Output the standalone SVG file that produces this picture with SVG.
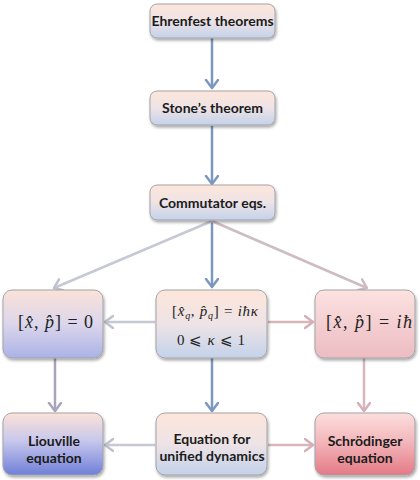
<svg xmlns="http://www.w3.org/2000/svg" width="420" height="480" viewBox="0 0 420 480">
<defs>
<linearGradient id="gStd" x1="0" y1="0" x2="0" y2="1">
<stop offset="0" stop-color="#fde6da"/><stop offset="0.5" stop-color="#eee3e6"/><stop offset="1" stop-color="#c3d2ea"/>
</linearGradient>
<linearGradient id="gLav" x1="0" y1="0" x2="0" y2="1">
<stop offset="0" stop-color="#fbe2d8"/><stop offset="0.5" stop-color="#dcd6ec"/><stop offset="1" stop-color="#aab2e6"/>
</linearGradient>
<linearGradient id="gBlue" x1="0" y1="0" x2="0" y2="1">
<stop offset="0" stop-color="#fce2d8"/><stop offset="0.45" stop-color="#c7c7ec"/><stop offset="1" stop-color="#6f7fd8"/>
</linearGradient>
<linearGradient id="gPink" x1="0" y1="0" x2="0" y2="1">
<stop offset="0" stop-color="#fce2e0"/><stop offset="1" stop-color="#ecbcc2"/>
</linearGradient>
<linearGradient id="gRed" x1="0" y1="0" x2="0" y2="1">
<stop offset="0" stop-color="#fcdedd"/><stop offset="0.45" stop-color="#f3b8bc"/><stop offset="1" stop-color="#e47a86"/>
</linearGradient>
<filter id="sh" x="-10%" y="-10%" width="125%" height="130%">
<feGaussianBlur in="SourceAlpha" stdDeviation="1.5"/>
<feOffset dx="1" dy="2" result="b"/>
<feComponentTransfer><feFuncA type="linear" slope="0.35"/></feComponentTransfer>
<feMerge><feMergeNode/><feMergeNode in="SourceGraphic"/></feMerge>
</filter>
<marker id="aBlue" markerUnits="userSpaceOnUse" markerWidth="16" markerHeight="16" refX="9" refY="7" orient="auto">
<path d="M1,1 L9,7 L1,13" fill="none" stroke="#7d98c0" stroke-width="2.5" stroke-linecap="round" stroke-linejoin="round"/>
</marker>
<marker id="aGrey" markerUnits="userSpaceOnUse" markerWidth="16" markerHeight="16" refX="9" refY="7" orient="auto">
<path d="M1,1 L9,7 L1,13" fill="none" stroke="#bfc1cd" stroke-width="2.5" stroke-linecap="round" stroke-linejoin="round"/>
</marker>
<marker id="aPurp" markerUnits="userSpaceOnUse" markerWidth="16" markerHeight="16" refX="9" refY="7" orient="auto">
<path d="M1,1 L9,7 L1,13" fill="none" stroke="#a8a4bc" stroke-width="2.5" stroke-linecap="round" stroke-linejoin="round"/>
</marker>
<marker id="aPink" markerUnits="userSpaceOnUse" markerWidth="16" markerHeight="16" refX="9" refY="7" orient="auto">
<path d="M1,1 L9,7 L1,13" fill="none" stroke="#d6b0b6" stroke-width="2.5" stroke-linecap="round" stroke-linejoin="round"/>
</marker>
<marker id="aRose" markerUnits="userSpaceOnUse" markerWidth="16" markerHeight="16" refX="9" refY="7" orient="auto">
<path d="M1,1 L9,7 L1,13" fill="none" stroke="#cdbcc2" stroke-width="2.5" stroke-linecap="round" stroke-linejoin="round"/>
</marker>
</defs>
<style>
.box{stroke:#a3a3a8;stroke-width:1;filter:url(#sh)}
.lbl{font-family:Lato,"Liberation Sans",sans-serif;font-weight:bold;font-size:14px;fill:#1b1b1b;text-anchor:middle}
.math{font-family:"Liberation Serif","DejaVu Serif",serif;font-size:18px;fill:#222}
.it{font-style:italic}
.c{fill:none;stroke-width:2.5}
.cb{stroke:#7d98c0;marker-end:url(#aBlue)}
.cg{stroke:#c6c8d4;marker-end:url(#aGrey)}
.cp{stroke:#a8a4bc;marker-end:url(#aPurp)}
.ck{stroke:#d8b6bc;marker-end:url(#aPink)}
.cr{stroke:#cdbcc2;marker-end:url(#aRose)}
</style>
<rect width="420" height="480" fill="#ffffff"/>
<g id="connectors">
<line class="c cb" x1="212" y1="38" x2="212" y2="88"/>
<line class="c cb" x1="212" y1="126" x2="212" y2="184"/>
<line class="c cb" x1="212" y1="221" x2="212" y2="287"/>
<line class="c cg" x1="212" y1="221" x2="54" y2="288"/>
<line class="c cr" x1="212" y1="221" x2="367" y2="288"/>
<line class="c cg" x1="155" y1="322" x2="105" y2="322"/>
<line class="c ck" x1="268" y1="322" x2="313" y2="322"/>
<line class="c cp" x1="55" y1="358" x2="55" y2="411"/>
<line class="c cb" x1="212" y1="358" x2="212" y2="411"/>
<line class="c ck" x1="364" y1="358" x2="364" y2="411"/>
<line class="c cg" x1="155" y1="445" x2="105" y2="445"/>
<line class="c ck" x1="268" y1="445" x2="313" y2="445"/>
</g>
<g id="ehrenfest">
<rect class="box" x="150" y="4" width="125" height="34" rx="7" fill="url(#gStd)"/>
<text class="lbl" x="212.5" y="26">Ehrenfest theorems</text>
</g>
<g id="stone">
<rect class="box" x="150" y="91" width="125" height="34" rx="7" fill="url(#gStd)"/>
<text class="lbl" x="212.5" y="113">Stone’s theorem</text>
</g>
<g id="commutator">
<rect class="box" x="150" y="185" width="125" height="35" rx="7" fill="url(#gStd)"/>
<text class="lbl" x="212.5" y="207.5">Commutator eqs.</text>
</g>
<g id="classical">
<rect class="box" x="3" y="290" width="100" height="68" rx="9" fill="url(#gLav)"/>
<text class="math" x="18" y="328" textLength="75" lengthAdjust="spacing">[<tspan class="it">x̂</tspan>, <tspan class="it">p̂</tspan>] = 0</text>
</g>
<g id="unified">
<rect class="box" x="156" y="290" width="111" height="68" rx="9" fill="url(#gStd)"/>
<text class="math" x="172" y="316" style="font-size:15px" textLength="86" lengthAdjust="spacing">[<tspan class="it">x̂</tspan><tspan class="it" font-size="10" dy="3">q</tspan><tspan dy="-3">, </tspan><tspan class="it">p̂</tspan><tspan class="it" font-size="10" dy="3">q</tspan><tspan dy="-3">] = </tspan><tspan class="it">iħκ</tspan></text>
<text class="math" x="177" y="345" style="font-size:15px" textLength="68" lengthAdjust="spacing">0 ⩽ <tspan class="it">κ</tspan> ⩽ 1</text>
</g>
<g id="quantum">
<rect class="box" x="315" y="290" width="100" height="68" rx="9" fill="url(#gPink)"/>
<text class="math" x="326" y="328" textLength="86" lengthAdjust="spacing">[<tspan class="it">x̂</tspan>, <tspan class="it">p̂</tspan>] = <tspan class="it">iħ</tspan></text>
</g>
<g id="liouville">
<rect class="box" x="3" y="413" width="100" height="62" rx="9" fill="url(#gBlue)"/>
<text class="lbl" x="54" y="446">Liouville</text>
<text class="lbl" x="54" y="463">equation</text>
</g>
<g id="unifiedeq">
<rect class="box" x="156" y="413" width="111" height="62" rx="9" fill="url(#gStd)"/>
<text class="lbl" x="212" y="444">Equation for</text>
<text class="lbl" x="212" y="461">unified dynamics</text>
</g>
<g id="schrodinger">
<rect class="box" x="315" y="413" width="100" height="62" rx="9" fill="url(#gRed)"/>
<text class="lbl" x="365" y="446">Schrödinger</text>
<text class="lbl" x="365" y="463">equation</text>
</g>
</svg>
